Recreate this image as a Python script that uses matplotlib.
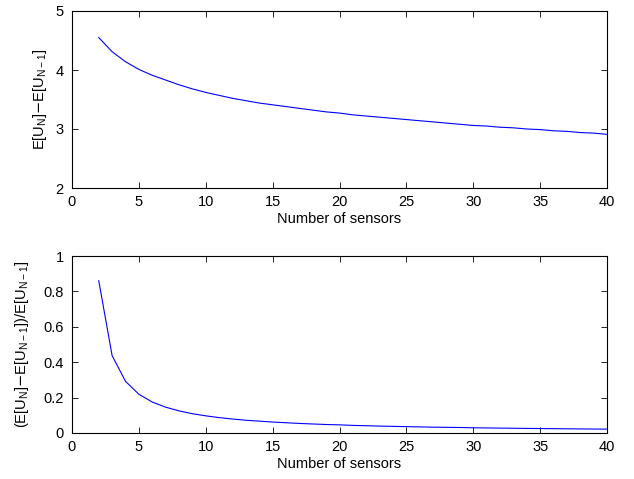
import matplotlib
matplotlib.use('Agg')
import matplotlib.pyplot as plt

plt.rcParams['font.family'] = ['Liberation Sans', 'DejaVu Sans']
plt.rcParams['font.size'] = 10.5

# number of sensors
n = list(range(2, 41))
# E[U_N] - E[U_{N-1}]
diff = [4.55, 4.31, 4.14, 4.01, 3.91, 3.83, 3.75, 3.68, 3.62, 3.57,
        3.52, 3.48, 3.44, 3.41, 3.38, 3.35, 3.32, 3.29, 3.27, 3.24,
        3.22, 3.20, 3.18, 3.16, 3.14, 3.12, 3.10, 3.08, 3.06, 3.05,
        3.03, 3.02, 3.00, 2.99, 2.97, 2.96, 2.94, 2.93, 2.91]
# (E[U_N] - E[U_{N-1}]) / E[U_{N-1}]
ratio = [0.86, 0.437, 0.292, 0.219, 0.175, 0.146, 0.125, 0.109, 0.097, 0.087,
         0.079, 0.072, 0.067, 0.062, 0.058, 0.054, 0.051, 0.048, 0.046, 0.043,
         0.041, 0.039, 0.0375, 0.036, 0.0345, 0.033, 0.032, 0.031, 0.0295, 0.0286,
         0.0276, 0.0268, 0.0259, 0.0252, 0.0244, 0.0237, 0.023, 0.0224, 0.0218]

fig = plt.figure(figsize=(6.34, 4.79), dpi=100)
ax0 = fig.add_axes([72 / 634, 1 - 188 / 479, 535 / 634, 177 / 479])
ax1 = fig.add_axes([72 / 634, 1 - 433 / 479, 535 / 634, 177 / 479])

ax0.plot(n, diff, color='blue', lw=0.8)
ax1.plot(n, ratio, color='blue', lw=0.8)

ax0.set_ylim(2, 5)
ax0.set_yticks([2, 3, 4, 5])
ax1.set_ylim(0, 1)
ax1.set_yticks([0, 0.2, 0.4, 0.6, 0.8, 1])
ax1.set_yticklabels(['0', '0.2', '0.4', '0.6', '0.8', '1'])

for ax in (ax0, ax1):
    ax.set_xlim(0, 40)
    ax.set_xticks(range(0, 41, 5))
    ax.set_xlabel('Number of sensors', labelpad=2)
    ax.tick_params(direction='in', top=True, right=True, length=4, width=0.6)
    ax.tick_params(axis='x', pad=5)
    ax.tick_params(axis='y', pad=6)
    for s in ax.spines.values():
        s.set_linewidth(0.8)

ax0.set_ylabel(r'E[U$_\mathregular{N}$]$-$E[U$_\mathregular{N-1}$]', labelpad=5)
ax1.set_ylabel(r'(E[U$_\mathregular{N}$]$-$E[U$_\mathregular{N-1}$])/E[U$_\mathregular{N-1}$]', labelpad=9)

fig.savefig('out.png', dpi=100)
